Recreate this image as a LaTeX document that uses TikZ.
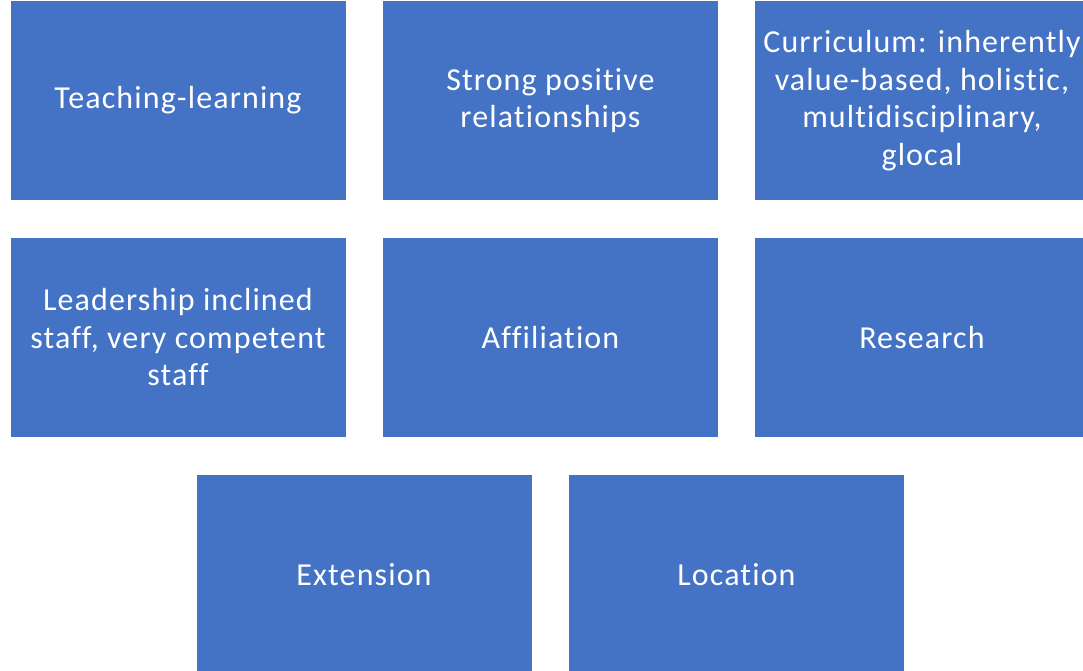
\documentclass[tikz,border=0pt]{standalone}
\usepackage{fontspec}
\setmainfont{Carlito}
\newfontfamily\boxfont[LetterSpace=3.5,Ligatures=NoCommon]{Carlito}
\definecolor{boxblue}{HTML}{4472C4}
\begin{document}
\begin{tikzpicture}[x=1pt,y=-1pt,
  cell/.style={rectangle,fill=boxblue,draw=white,line width=1pt,
    minimum width=336pt,minimum height=200pt,inner sep=0pt,
    text=white,align=center,font=\boxfont\fontsize{32}{37.5}\selectfont}]
\useasboundingbox (0,0) rectangle (1083,671);
\clip (0,0) rectangle (1083,671);
\fill[white] (0,0) rectangle (1083,671);
\node[cell] (t) at (178,100.5) {Teaching-learning};
\node[cell] (s) at (550.5,100.5) {Strong positive\\relationships};
\node[cell] (c) at (922,100.5) {Curriculum: inherently\\value-based, holistic,\\multidisciplinary,\\glocal};
\node[cell] (l) at (178,337.5) {Leadership inclined\\staff, very competent\\staff};
\node[cell] (a) at (550.5,337.5) {Affiliation};
\node[cell] (r) at (922,337.5) {Research};
\node[cell] (e) at (364,574.5) {Extension};
\node[cell] (o) at (736.5,574.5) {Location};
\end{tikzpicture}
\end{document}
